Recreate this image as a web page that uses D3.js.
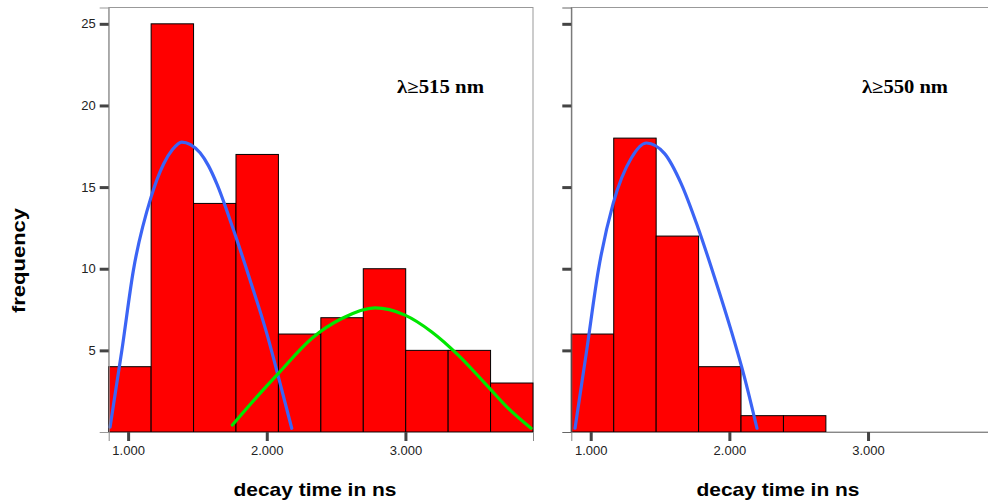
<!DOCTYPE html>
<html>
<head>
<meta charset="utf-8">
<script src="https://cdn.jsdelivr.net/npm/d3@7"></script>
<style>
  html, body { margin: 0; padding: 0; background: #fff; }
  svg { display: block; }
</style>
</head>
<body>
<svg id="chart" width="988" height="501"></svg>
<script>
// Histogram bin edges (ns), shared by both panels
const binEdges = [0.86, 1.166, 1.472, 1.778, 2.084, 2.39, 2.696, 3.002, 3.308, 3.614, 3.92];

// Counts per bin
const countsA = [4, 25, 14, 17, 6, 7, 10, 5, 5, 3];   // λ≥515 nm
const countsB = [6, 18, 12, 4, 1, 1];                 // λ≥550 nm

// Fitted distribution curves, [decay time, frequency]
const fitA1 = [[0.870, 0.3], [0.955, 5.0], [1.038, 9.9], [1.166, 14.4], [1.255, 16.4], [1.320, 17.3], [1.387, 17.76],
               [1.450, 17.6], [1.519, 17.1], [1.580, 16.3], [1.640, 15.2], [1.759, 12.4], [1.880, 9.3],
               [2.000, 6.04], [2.096, 2.98], [2.180, 0.23]];
const fitA2 = [[1.752, 0.43], [1.940, 2.26], [2.084, 3.59], [2.324, 5.73], [2.541, 6.95], [2.781, 7.6],
               [2.997, 7.16], [3.190, 6.13], [3.381, 4.71], [3.574, 2.98], [3.742, 1.45], [3.906, 0.23]];
const fitB1 = [[0.887, 0.23], [0.971, 5.0], [1.055, 9.9], [1.162, 14.0], [1.294, 16.8], [1.402, 17.7],
               [1.533, 17.05], [1.653, 15.2], [1.772, 12.56], [1.892, 9.5], [2.012, 6.24], [2.108, 3.38], [2.199, 0.23]];

// Axis ticks
const xTicks = [1, 2, 3];
const yTicks = [5, 10, 15, 20, 25];

const panelLabels = ["λ≥515 nm", "λ≥550 nm"];
const xTitle = "decay time in ns";
const yTitle = "frequency";

const svg = d3.select("#chart");
svg.append("rect").attr("width", 988).attr("height", 501).attr("fill", "#fff");

const y = d3.scaleLinear().domain([0, 26]).range([432, 7.5]);

const panels = [
  { left: 108.7, counts: countsA, fits: [[fitA1, "#3b64f5"], [fitA2, "#00e600"]], label: panelLabels[0],
    labelX: 397, labelLen: 87, titleX: 315, showY: true, axisColor: "#999" },
  { left: 571.3, counts: countsB, fits: [[fitB1, "#3b64f5"]], label: panelLabels[1],
    labelX: 862, labelLen: 86, titleX: 778, showY: false, axisColor: "#666" }
];

panels.forEach(p => {
  const x = d3.scaleLinear().domain([binEdges[0], binEdges[binEdges.length - 1]]).range([p.left, p.left + 424.3]);
  const g = svg.append("g");

  // frame
  g.append("rect")
    .attr("x", x.range()[0]).attr("y", y(26))
    .attr("width", x.range()[1] - x.range()[0]).attr("height", y(0) - y(26))
    .attr("fill", "none").attr("stroke", "#999").attr("stroke-width", 1);

  // bars
  g.selectAll("rect.bar").data(p.counts).join("rect")
    .attr("class", "bar")
    .attr("x", (d, i) => x(binEdges[i]))
    .attr("y", d => y(d))
    .attr("width", (d, i) => x(binEdges[i + 1]) - x(binEdges[i]))
    .attr("height", d => y(0) - y(d))
    .attr("fill", "#ff0000")
    .attr("stroke", "#000").attr("stroke-width", 1);

  // fitted curves
  const line = d3.line().x(d => x(d[0])).y(d => y(d[1])).curve(d3.curveMonotoneX);
  p.fits.forEach(([pts, col]) => {
    g.append("path").attr("d", line(pts))
      .attr("fill", "none").attr("stroke", col).attr("stroke-width", 3.2)
      .attr("stroke-linecap", "round");
  });

  // y axis
  const yAxis = d3.axisLeft(y).tickValues(yTicks).tickSize(9).tickPadding(4)
    .tickFormat(p.showY ? d3.format("d") : () => "");
  const ya = g.append("g").attr("transform", `translate(${x.range()[0]},0)`).call(yAxis);
  ya.select(".domain").attr("stroke", p.axisColor).attr("stroke-width", 1);
  ya.selectAll(".tick line").attr("stroke", "#444").attr("stroke-width", 3);
  ya.selectAll(".tick text").attr("fill", "#222")
    .style("font-family", "Arial, 'Liberation Sans', sans-serif").style("font-size", "13px");

  // x axis
  const xAxis = d3.axisBottom(x).tickValues(xTicks).tickSize(9).tickPadding(5).tickFormat(d3.format(".3f"));
  const xa = g.append("g").attr("transform", `translate(0,${y(0)})`).call(xAxis);
  xa.select(".domain").attr("stroke", "#888").attr("stroke-width", 1);
  xa.selectAll(".tick line").attr("stroke", "#444").attr("stroke-width", 3);
  xa.selectAll(".tick text").attr("fill", "#222")
    .style("font-family", "Arial, 'Liberation Sans', sans-serif").style("font-size", "13px");

  // panel label
  g.append("text")
    .attr("x", p.labelX).attr("y", 93)
    .attr("textLength", p.labelLen).attr("lengthAdjust", "spacingAndGlyphs")
    .style("font-family", "'Times New Roman', 'Liberation Serif', serif")
    .style("font-weight", "bold").style("font-size", "18px")
    .attr("fill", "#000")
    .text(p.label);

  // x title
  g.append("text")
    .attr("x", p.titleX).attr("y", 496)
    .attr("text-anchor", "middle")
    .attr("textLength", 163).attr("lengthAdjust", "spacingAndGlyphs")
    .style("font-family", "Arial, 'Liberation Sans', sans-serif")
    .style("font-weight", "bold").style("font-size", "19px")
    .attr("fill", "#000")
    .text(xTitle);
});

// y title
svg.append("text")
  .attr("transform", "translate(24.5,260.5) rotate(-90)")
  .attr("text-anchor", "middle")
  .attr("textLength", 105).attr("lengthAdjust", "spacingAndGlyphs")
  .style("font-family", "Arial, 'Liberation Sans', sans-serif")
  .style("font-weight", "bold").style("font-size", "18px")
  .attr("fill", "#000")
  .text(yTitle);
</script>
</body>
</html>
